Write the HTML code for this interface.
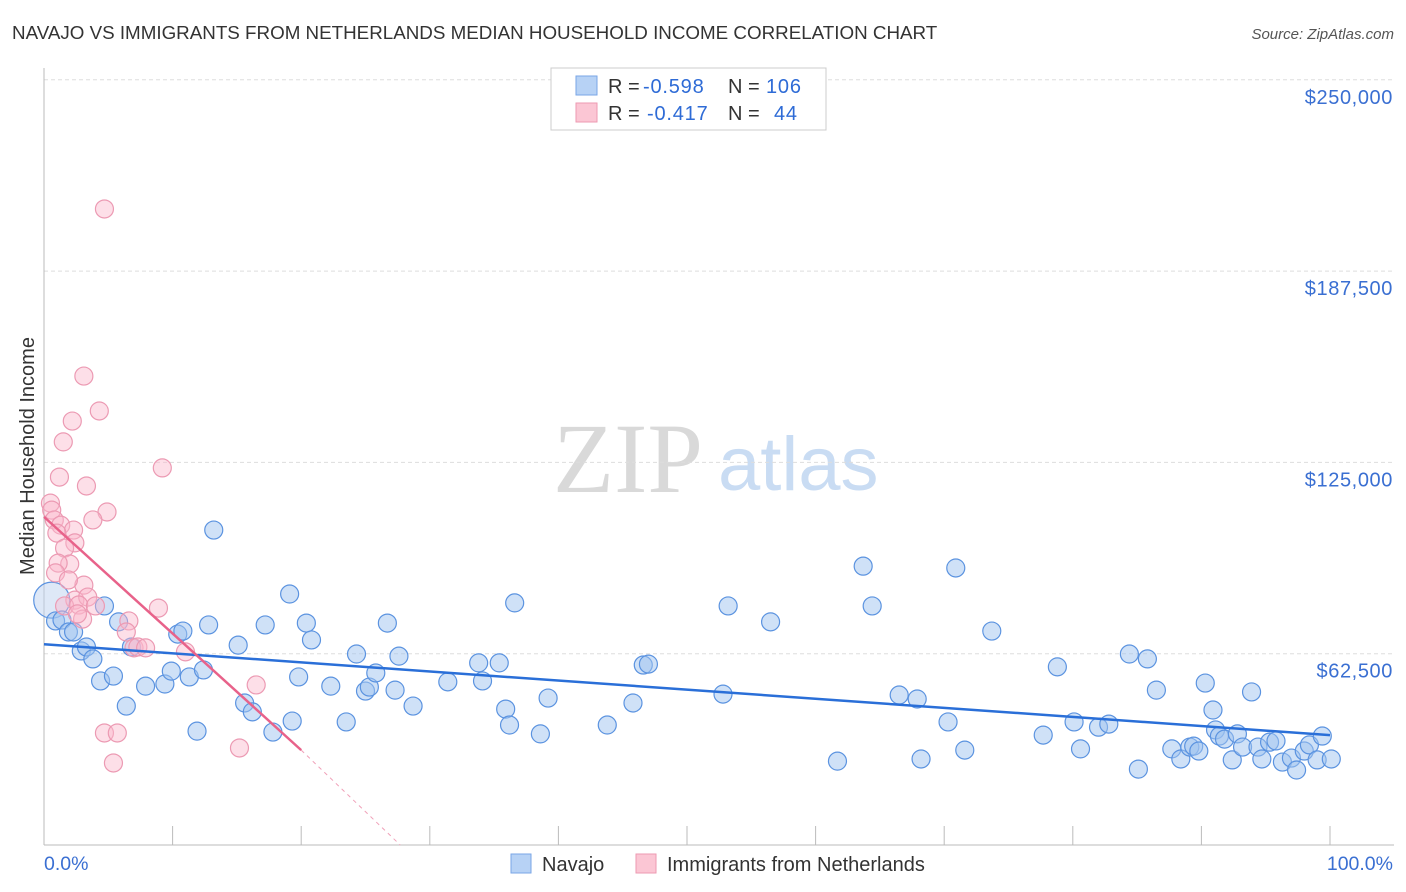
<!DOCTYPE html>
<html><head><meta charset="utf-8"><style>
body{margin:0;background:#fff;font-family:"Liberation Sans",sans-serif;}
svg{display:block}
</style></head><body>
<svg id="chart" width="1406" height="892">
<text x="12" y="39" font-size="18.8" fill="#333">NAVAJO VS IMMIGRANTS FROM NETHERLANDS MEDIAN HOUSEHOLD INCOME CORRELATION CHART</text>
<text x="1394" y="39" font-size="15" fill="#555" font-style="italic" text-anchor="end">Source: ZipAtlas.com</text>
<text transform="translate(34,456) rotate(-90)" font-size="20" fill="#333" text-anchor="middle">Median Household Income</text>
<g>
<text x="553" y="492" font-family="Liberation Serif,serif" font-size="100" fill="#d9d9d9">ZIP</text>
<text x="718" y="490" font-size="76" fill="#c9dcf3">atlas</text>
</g>
<g id="grid"></g>
<g id="axes"></g>
<g id="marks"></g>
<g font-size="20">
<rect x="551" y="68" width="275" height="62" fill="#fff" stroke="#ccc"/>
<rect x="576" y="76" width="21" height="19" fill="#b7d2f5" stroke="#7aa6e6"/>
<rect x="576" y="103" width="21" height="19" fill="#fbc6d4" stroke="#ee9ab2"/>
<text x="608" y="93" fill="#333">R =</text>
<text x="643" y="93" fill="#2e6bd6" letter-spacing="0.8">-0.598</text>
<text x="728" y="93" fill="#333">N =</text>
<text x="766" y="93" fill="#2e6bd6" letter-spacing="0.8">106</text>
<text x="608" y="120" fill="#333">R =</text>
<text x="647" y="120" fill="#2e6bd6" letter-spacing="0.8">-0.417</text>
<text x="728" y="120" fill="#333">N =</text>
<text x="774" y="120" fill="#2e6bd6" letter-spacing="0.8">44</text>
</g>
<g>
<rect x="511" y="854" width="20" height="19" fill="#b7d2f5" stroke="#7aa6e6"/>
<text x="542" y="871" font-size="20" fill="#333">Navajo</text>
<rect x="636" y="854" width="20" height="19" fill="#fbc6d4" stroke="#ee9ab2"/>
<text x="667" y="871" font-size="20" fill="#333">Immigrants from Netherlands</text>
</g>
</svg>
<script>
const yTicks=[62500,125000,187500,250000];
const yTickLabels=["$62,500","$125,000","$187,500","$250,000"];
const xTicks=[0,10,20,30,40,50,60,70,80,90,100];
const xEndLabels=["0.0%","100.0%"];
const navajoX=[0.6,0.9,1.4,1.9,2.3,2.9,3.3,3.8,4.4,4.7,5.4,5.8,6.4,6.8,7.9,9.4,9.9,10.4,10.8,11.3,11.9,12.4,12.8,13.2,15.1,15.6,16.2,17.2,17.8,19.1,19.3,19.8,20.4,20.8,22.3,23.5,24.3,25.0,25.3,25.8,26.7,27.3,27.6,28.7,31.4,33.8,34.1,35.4,35.9,36.2,36.6,38.6,39.2,43.8,45.8,46.6,47.0,52.8,53.2,56.5,61.7,63.7,64.4,66.5,67.9,68.2,70.3,70.9,71.6,73.7,77.7,78.8,80.1,80.6,82.0,82.8,84.4,85.1,85.8,86.5,87.7,88.4,89.1,89.4,89.8,90.3,90.9,91.1,91.4,91.8,92.4,92.8,93.2,93.9,94.4,94.7,95.3,95.8,96.3,97.0,97.4,98.0,98.4,99.0,99.4,100.1];
const navajoY=[80.0,73.2,73.5,69.6,69.6,63.4,64.7,60.8,53.6,78.1,55.2,72.9,45.4,64.7,51.9,52.6,56.8,68.9,69.9,54.9,37.2,57.2,71.9,102.9,65.3,46.4,43.5,71.9,36.9,82.0,40.5,54.9,72.5,67.0,51.9,40.2,62.4,50.3,51.6,56.2,72.5,50.6,61.7,45.4,53.3,59.5,53.6,59.5,44.4,39.2,79.1,36.3,48.0,39.2,46.4,58.8,59.1,49.3,78.1,72.9,27.4,91.1,78.1,49.0,47.7,28.1,40.2,90.5,31.0,69.9,35.9,58.2,40.2,31.4,38.5,39.5,62.4,24.8,60.8,50.6,31.4,28.1,32.0,32.3,30.7,52.9,44.1,37.6,35.6,34.6,27.8,36.3,32.0,50.0,32.0,28.1,33.6,34.0,27.1,28.4,24.5,30.7,32.7,27.8,35.6,28.1];
const nethX=[4.7,3.1,4.3,2.2,1.5,9.2,1.2,3.3,0.5,4.9,3.8,0.6,0.8,1.3,2.3,2.4,1.0,1.6,2.0,1.1,0.9,3.1,1.9,2.4,1.6,3.4,2.7,4.0,3.0,2.6,6.6,8.9,6.4,7.0,7.3,7.9,11.0,16.5,4.7,5.7,5.4,15.2,0.3];
const nethY=[207.8,153.2,141.8,138.5,131.7,123.2,120.2,117.3,111.7,108.8,106.2,109.4,106.2,104.5,102.9,98.7,101.9,97.0,91.8,92.1,88.9,84.9,86.6,80.0,78.1,81.0,78.4,78.1,73.8,75.5,73.2,77.4,69.6,64.4,64.7,64.4,63.1,52.3,36.6,36.6,26.8,31.7,82.0];
const navajoTrend=[65.6,35.9];
const nethTrend=[107.2,31.0,20,27.7];

const NS="http://www.w3.org/2000/svg";
const X0=44,X1=1330,Y0=845,PXPER=191.3/62500;
const sx=v=>X0+(X1-X0)*v/100;
const sy=v=>Y0-v*PXPER;
function mk(tag,attrs,parent){const e=document.createElementNS(NS,tag);for(const k in attrs)e.setAttribute(k,attrs[k]);parent.appendChild(e);return e;}
const grid=document.getElementById('grid'),axes=document.getElementById('axes'),marks=document.getElementById('marks');
yTicks.forEach((t,i)=>{
 const l=mk('line',{x1:44,x2:1394,y1:sy(t),y2:sy(t),stroke:'#ddd','stroke-dasharray':'4,3'},grid);
 
 
 const tx=mk('text',{x:1393,y:sy(t)+24,'font-size':20,fill:'#3a6fd2','text-anchor':'end','letter-spacing':0.6},axes);
 tx.textContent=yTickLabels[i];
 
 
});
const ax=mk('line',{x1:44,x2:1394,y1:Y0,y2:Y0,stroke:'#bbb'},axes);


const ay=mk('line',{x1:44,x2:44,y1:68,y2:Y0,stroke:'#bbb'},axes);


xTicks.forEach(t=>{
 const l=mk('line',{x1:sx(t),x2:sx(t),y1:826,y2:Y0,stroke:'#bbb'},axes);
 
 
});
const xl0=mk('text',{x:44,y:870,'font-size':19.5,fill:'#3a6fd2'},axes);xl0.textContent=xEndLabels[0];


const xl1=mk('text',{x:1393,y:870,'font-size':19.5,fill:'#3a6fd2','text-anchor':'end'},axes);xl1.textContent=xEndLabels[1];



navajoX.forEach((x,i)=>{
 const c=mk('circle',{cx:sx(x),cy:sy(navajoY[i]*1000),r:i===0?18:9,fill:i===0?'rgba(190,210,240,0.5)':'rgba(160,196,240,0.5)',stroke:'#5b93e0','stroke-width':1.2},marks);
 
 
});
nethX.forEach((x,i)=>{
 const c=mk('circle',{cx:sx(x),cy:sy(nethY[i]*1000),r:i===nethX.length-1?0:9,fill:'rgba(250,185,205,0.45)',stroke:'#ec9ab3','stroke-width':1.2},marks);
 
 
});
const bt=mk('line',{x1:sx(0),y1:sy(navajoTrend[0]*1000),x2:sx(100),y2:sy(navajoTrend[1]*1000),stroke:'#2a6fd8','stroke-width':2.5},marks);


const pt=mk('line',{x1:sx(0),y1:sy(nethTrend[0]*1000),x2:sx(nethTrend[2]),y2:sy(nethTrend[1]*1000),stroke:'#e8628a','stroke-width':2.5},marks);


const pd=mk('line',{x1:sx(nethTrend[2]),y1:sy(nethTrend[1]*1000),x2:sx(nethTrend[3]),y2:sy(0),stroke:'#f0a0b8','stroke-width':1,'stroke-dasharray':'4,4'},marks);


</script>
</body></html>
